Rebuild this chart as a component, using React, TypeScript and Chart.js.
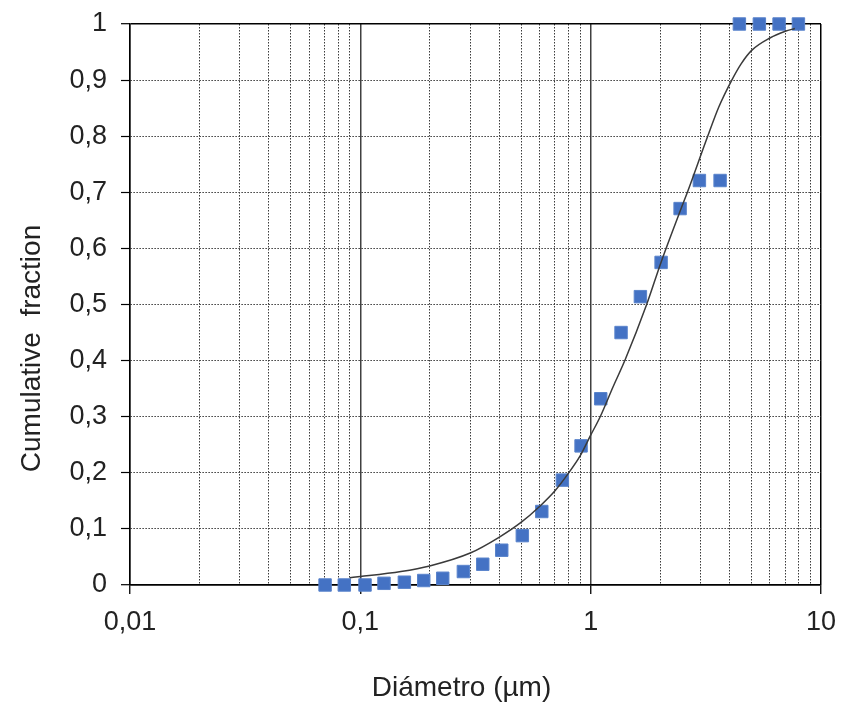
import React, { useEffect, useRef } from 'react';
import { Chart, registerables } from 'chart.js';

Chart.register(...registerables);

// Measured data points (diameter in µm, cumulative fraction)
const pointDiameters = [0.0703, 0.0852, 0.1048, 0.1267, 0.1553, 0.1885, 0.2279, 0.2801, 0.34, 0.4111, 0.505, 0.6135, 0.7535, 0.9085, 1.106, 1.355, 1.644, 2.022, 2.445, 2.965, 3.647, 4.422, 5.4, 6.577, 7.98];
const pointFractions = [0, 0, 0, 0.003, 0.005, 0.008, 0.012, 0.024, 0.037, 0.062, 0.088, 0.131, 0.187, 0.248, 0.332, 0.45, 0.514, 0.575, 0.671, 0.721, 0.721, 1, 1, 1, 1];

// Fitted curve
const curveDiameters = [0.09, 0.1, 0.15, 0.2, 0.3, 0.4, 0.5, 0.6, 0.7, 0.8, 0.9, 1.0, 1.1, 1.25, 1.41, 1.75, 2.02, 2.47, 2.63, 3.21, 3.6, 4.1, 4.5, 5.0, 6.0, 7.0, 7.7];
const curveFractions = [0.013, 0.015, 0.024, 0.034, 0.057, 0.085, 0.112, 0.14, 0.168, 0.199, 0.23, 0.267, 0.3, 0.353, 0.401, 0.5, 0.575, 0.671, 0.7, 0.798, 0.852, 0.9, 0.929, 0.953, 0.975, 0.987, 0.992];

// Axis ticks
const xDecadeTicks = [0.01, 0.1, 1, 10];
const xMinorMultipliers = [2, 3, 4, 5, 6, 7, 8, 9];
const yMin = 0;
const yMax = 1;
const yStep = 0.1;

const xTitle = 'Diámetro (µm)';
const yTitle = 'Cumulative  fraction';

const FONT = '"Liberation Sans", Arial, sans-serif';
const TEXT = '#222222';

const isDecade = (v: number) => xDecadeTicks.some((d) => Math.abs(v / d - 1) < 1e-9);
const isYEdge = (v: number) => Math.abs(v - yMin) < 1e-9 || Math.abs(v - yMax) < 1e-9;
const fmt = (v: number) => String(Math.round(v * 1000) / 1000).replace('.', ',');

const axisTitlePlugin = {
  id: 'axisTitles',
  afterDraw(chart: any) {
    const { ctx, chartArea } = chart;
    ctx.save();
    ctx.fillStyle = TEXT;
    ctx.font = `28px ${FONT}`;
    ctx.textAlign = 'center';
    ctx.textBaseline = 'middle';
    const cx = (chartArea.left + chartArea.right) / 2 - 14;
    ctx.fillText(xTitle, cx, chartArea.bottom + 103);
    ctx.translate(chartArea.left - 98, (chartArea.top + chartArea.bottom) / 2 + 44);
    ctx.rotate(-Math.PI / 2);
    ctx.fillText(yTitle, 0, 0);
    ctx.restore();
  },
};

export default function App() {
  const canvasRef = useRef<HTMLCanvasElement | null>(null);

  useEffect(() => {
    if (!canvasRef.current) return;
    const chart = new Chart(canvasRef.current, {
      type: 'scatter',
      data: {
        datasets: [
          {
            label: 'Curve',
            data: curveDiameters.map((x, i) => ({ x, y: curveFractions[i] })),
            showLine: true,
            borderColor: '#3a3a3a',
            borderWidth: 1.5,
            pointRadius: 0,
            cubicInterpolationMode: 'monotone',
            clip: false,
          } as any,
          {
            label: 'Data',
            data: pointDiameters.map((x, i) => ({ x, y: pointFractions[i] })),
            showLine: false,
            pointStyle: 'rect',
            pointRadius: 8.8,
            backgroundColor: '#4472C4',
            borderColor: '#5a84cc',
            borderWidth: 1,
            clip: false,
          } as any,
        ],
      },
      options: {
        responsive: false,
        animation: false,
        events: [],
        layout: { padding: { top: 24, right: 21, left: 0, bottom: 0 } },
        plugins: { legend: { display: false }, tooltip: { enabled: false } },
        scales: {
          x: {
            type: 'logarithmic',
            min: xDecadeTicks[0],
            max: xDecadeTicks[xDecadeTicks.length - 1],
            afterBuildTicks: (scale: any) => {
              const ticks: any[] = [];
              for (let i = 0; i < xDecadeTicks.length; i++) {
                const d = xDecadeTicks[i];
                ticks.push({ value: d, major: true });
                if (i < xDecadeTicks.length - 1) {
                  xMinorMultipliers.forEach((m) => ticks.push({ value: d * m, major: false }));
                }
              }
              scale.ticks = ticks;
            },
            afterFit: (scale: any) => {
              scale.height = 124;
              scale.paddingLeft = 0;
              scale.paddingRight = 0;
            },
            ticks: {
              autoSkip: false,
              maxRotation: 0,
              padding: 12,
              color: TEXT,
              font: { family: FONT, size: 27 },
              callback: (value: any) => (isDecade(Number(value)) ? fmt(Number(value)) : ''),
            },
            grid: {
              drawTicks: true,
              tickLength: 9,
              color: (c: any) => {
                if (!c.tick) return '#000';
                const v = c.tick.value;
                if (Math.abs(v - 10) < 1e-9 || Math.abs(v - 0.01) < 1e-9) return '#000';
                return isDecade(v) ? '#404040' : '#3a3a3a';
              },
              lineWidth: (c: any) => (c.tick && isDecade(c.tick.value) ? 1.5 : 1),
              tickColor: (c: any) => (c.tick && isDecade(c.tick.value) ? '#000' : 'rgba(0,0,0,0)'),
              tickWidth: 1.3,
            },
            border: {
              display: true,
              color: '#000',
              width: 1.4,
              dash: (c: any) => (c.tick && !isDecade(c.tick.value) ? [1.5, 1.5] : []),
            },
          },
          y: {
            type: 'linear',
            min: yMin,
            max: yMax,
            afterFit: (scale: any) => {
              scale.width = 130;
              scale.paddingTop = 0;
              scale.paddingBottom = 0;
            },
            ticks: {
              stepSize: yStep,
              autoSkip: false,
              padding: 14,
              color: TEXT,
              font: { family: FONT, size: 27 },
              callback: (value: any) => fmt(Number(value)),
            },
            grid: {
              drawTicks: true,
              tickLength: 9,
              color: (c: any) => (c.tick && !isYEdge(c.tick.value) ? '#3a3a3a' : '#000'),
              lineWidth: (c: any) => (c.tick && !isYEdge(c.tick.value) ? 1 : 1.4),
              tickColor: '#000',
              tickWidth: 1.2,
            },
            border: {
              display: true,
              color: '#000',
              width: 1.4,
              dash: (c: any) => (c.tick && !isYEdge(c.tick.value) ? [1.5, 1.5] : []),
            },
          },
        },
      } as any,
      plugins: [axisTitlePlugin],
    });
    return () => chart.destroy();
  }, []);

  return (
    <div style={{ position: 'absolute', left: 0, top: 0, width: 842, height: 709, background: '#fff' }}>
      <canvas ref={canvasRef} width={842} height={709} style={{ width: 842, height: 709, display: 'block' }} />
    </div>
  );
}
